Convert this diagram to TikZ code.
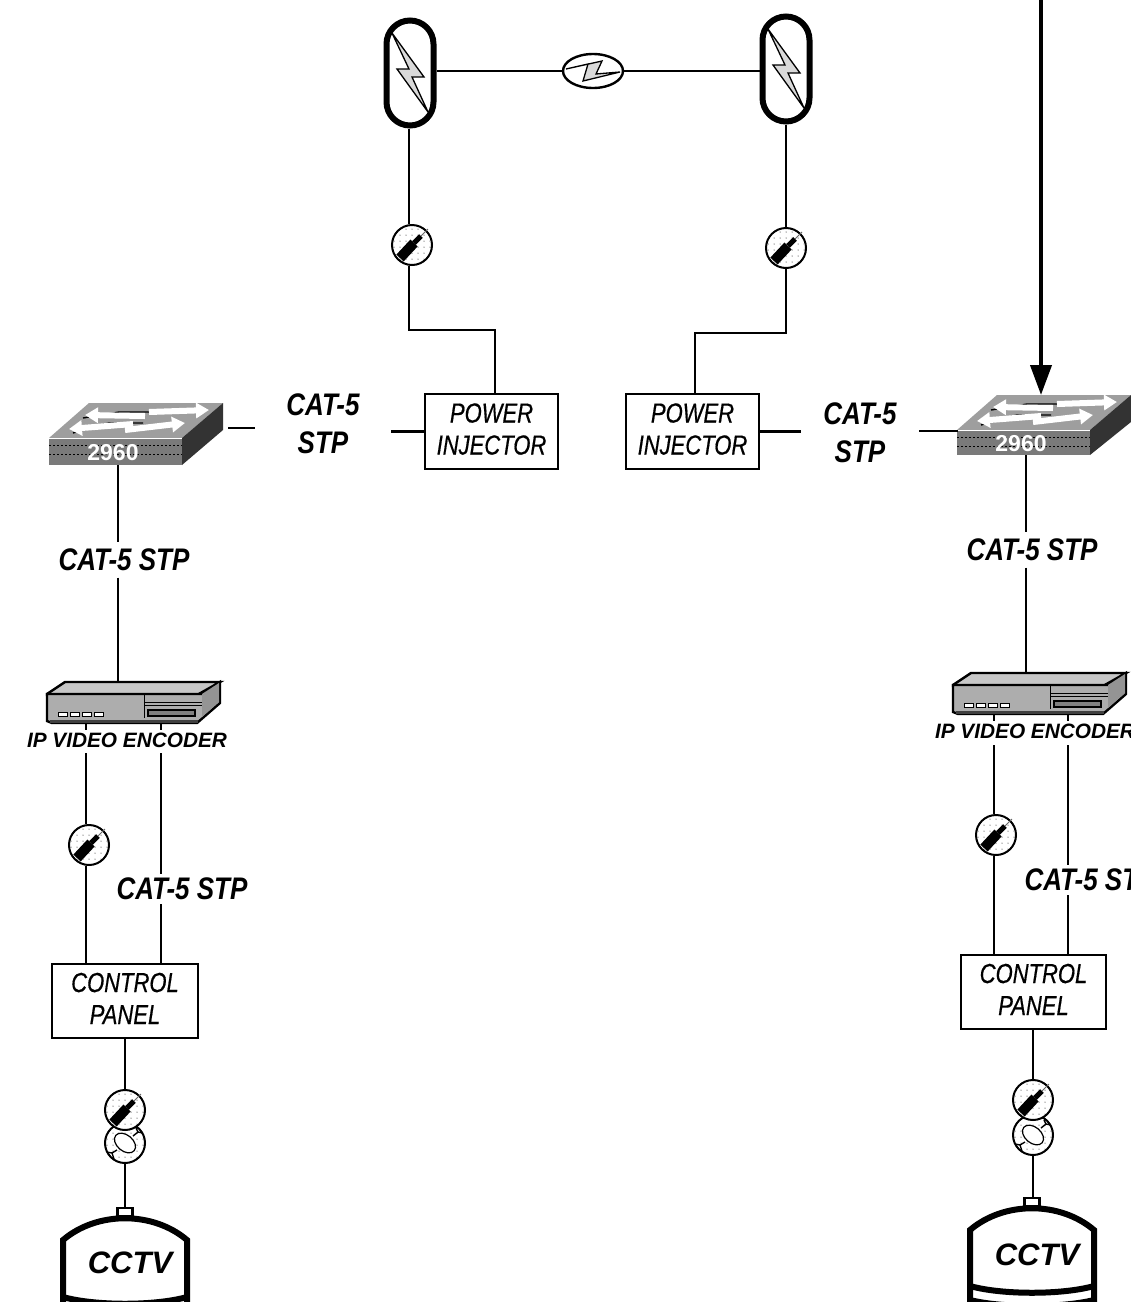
\documentclass[tikz,border=0pt]{standalone}
\usepackage{fontspec}
\usepackage{graphicx}
\setmainfont{Liberation Sans}
\newfontface\medit[FakeBold=0.6]{Liberation Sans Italic}
\usetikzlibrary{arrows.meta,calc,shapes.geometric}
\tikzset{
  wire/.style={line width=2.4pt,draw=black},
  boxnode/.style={draw=black,line width=2.8pt,fill=white,inner sep=0pt,align=center,font=\fontsize{22}{32}\selectfont\medit},
  catlabel/.style={inner sep=0pt,align=center,font=\fontsize{26}{38}\selectfont\bfseries\itshape},
  enclabel/.style={inner sep=0pt,minimum height=23pt,font=\fontsize{20.8}{24}\selectfont\bfseries\itshape},
  symcircle/.style={circle,draw=black,line width=2pt,fill=white,minimum size=40pt,inner sep=0pt},
  pill/.style={draw=black,line width=6pt,rounded corners=23.5pt,minimum width=47pt,minimum height=105pt,inner sep=0pt},
  boltfill/.style={draw=black,line width=1.3pt,line join=miter,fill=black!15},
  swarrow/.style={-{Triangle[length=13pt,width=15pt]},line width=6pt,draw=white},
  swshadow/.style={line width=1.4pt,draw=black},
}
\newcommand{\bxt}[1]{\raisebox{-2pt}[13pt][3pt]{\scalebox{1}[1.25]{#1}}}
% circle symbols
\newcommand{\symdots}{\begin{scope}
  \clip (0,0) circle (19pt);
  \foreach \px in {-18,-12,...,18}{\foreach \py in {-16,-10,...,20}{\fill[black] (\px,\py) circle (0.5pt);}}
  \end{scope}}
\newcommand{\cablesym}[3]{%
  \node[symcircle] (#1) at (#2,#3) {};
  \begin{scope}[shift={(#2,#3)}]
    \symdots
    \draw[line width=10pt] (-12,13)--(2,-2);
    \draw[line width=5pt] (2,-2)--(9,-9);
    \draw[line width=0.8pt,draw=black!60] (9,-9)--(16,-16);
  \end{scope}}
\newcommand{\fibersym}[3]{%
  \node[symcircle] (#1) at (#2,#3) {};
  \begin{scope}[shift={(#2,#3)}]
    \symdots
    \draw[line width=1.2pt,fill=white,rotate=-40] (0,0) ellipse (12pt and 8pt);
    \draw[line width=1.4pt] (8,-7)--(13,-11) (13,-11)--(11,-15) (13,-11)--(18,-10)
      (-8,7)--(-13,10) (-13,10)--(-18,9) (-13,10)--(-11,16);
  \end{scope}}
\newcommand{\antenna}[3]{%
  \node[pill] (#1) at (#2,#3) {};
  \begin{scope}[shift={(#2,#3)}]
    \draw[boltfill] (-18,-40)--(14,4)--(2,4)--(18,39)--(-13,-4)--(-1,-4)--cycle;
  \end{scope}}
\newcommand{\switchicon}[4]{% name, x, y, front height
  \begin{scope}[shift={(#2,#3)}]
    \fill[black!38] (0,0)--(40,-35)--(174,-35)--(133,0)--cycle;
    \fill[black!52] (0,0) rectangle (133,#4);
    \fill[black!80] (133,0)--(174,-35)--(174,-8)--(133,#4)--cycle;
    \draw[white,line width=1pt] (0,0)--(133,0);
    \draw[black,line width=0.8pt,dash pattern=on 2pt off 2pt] (0,7)--(133,7) (0,16)--(133,16);
    \draw[swshadow] (34,-20)--(70,-26)--(104,-26);
    \draw[swshadow] (24,-5)--(60,-15)--(94,-15);
    \draw[swarrow] (100,-26)--(160,-28);
    \draw[swarrow] (96,-22)--(36,-23);
    \draw[swarrow] (84,-14)--(20,-9);
    \draw[swarrow] (76,-8)--(136,-15);
    \node[inner sep=0pt,text=white,font=\fontsize{23}{24}\selectfont\bfseries] (#1txt) at (64,{#4/2+1}) {2960};
  \end{scope}}
\newcommand{\encoder}[3]{% name, x, y of front-left top corner
  \begin{scope}[shift={(#2,#3)}]
    \draw[line width=2.4pt,fill=black!22] (0,0)--(18,-12)--(173,-12)--(150,1)--(0,1)--cycle;
    \draw[line width=2.4pt,fill=black!32] (0,0)--(155,0)--(173,-12)--(173,9)--(150,29)--(5,29)--(0,27)--cycle;
    \fill[black!42] (155,0)--(172,-11)--(172,8)--(155,23)--cycle;
    \fill[black!75] (3,26) rectangle (151,29);
    \draw[line width=0.9pt] (97,1)--(97,24) (97,8)--(155,8) (97,11)--(155,11);
    \draw[line width=1.4pt,fill=black!50] (101,16) rectangle (148,22);
    \foreach \px in {11,23,35,47}{\draw[line width=1pt,fill=white] (\px,18) rectangle ++(9,4);}
  \end{scope}}
\newcommand{\cctv}[7]{% name, cx, shoulderY, controlY, nubBottomY, bottom-edgeY, bottom-ctrlY
  \path[draw=black,line width=6pt,line join=miter,fill=white]
    (#2-62,1312)--(#2-62,#3) .. controls (#2-28,#4) and (#2+28,#4) .. (#2+62,#3)--(#2+62,1312);
  \draw[line width=6pt] (#2-62,#6) .. controls (#2-30,#7) and (#2+30,#7) .. (#2+62,#6);
  \node[draw=black,line width=2.4pt,fill=white,minimum width=15pt,minimum height=8pt,inner sep=0pt,anchor=south] (#1) at (#2,#5) {};}
\begin{document}
\begin{tikzpicture}[x=1pt,y=-1pt]
\useasboundingbox (0,0) rectangle (1131,1302);
\clip (0,0) rectangle (1131,1302);
\fill[white] (0,0) rectangle (1131,1302);

% ---------- radio link
\antenna{ant1}{410}{73}
\antenna{ant2}{786}{69}
\node[draw=black,line width=2.4pt,fill=white,ellipse,minimum width=60pt,minimum height=34pt,inner sep=0pt] (link) at (593,71) {};
\begin{scope}[shift={(593,71)}]
  \draw[boltfill] (-27,-2)--(9,-10)--(3,3)--(27,1)--(-10,10)--(-5,-7)--cycle;
\end{scope}
\coordinate (linky) at (593,71);
\draw[wire] (ant1.east |- linky) -- (link.west);
\draw[wire] (link.east) -- (ant2.west |- linky);

\cablesym{cabA}{412}{245}
\cablesym{cabB}{786}{248}

% ---------- power injectors
\node[boxnode,minimum width=133pt,minimum height=75pt] (inj1) at (491.5,431.5) {\bxt{POWER}\\\bxt{INJECTOR}};
\node[boxnode,minimum width=133pt,minimum height=75pt] (inj2) at (692.5,431.5) {\bxt{POWER}\\\bxt{INJECTOR}};

\coordinate (a1x) at (409,128);
\coordinate (a2x) at (786,123);
\coordinate (b1) at (409,330);
\coordinate (b1b) at (495,330);
\coordinate (b2) at (786,333);
\coordinate (b2b) at (695,333);
\draw[wire] (ant1.south -| a1x) -- (cabA.north -| a1x);
\draw[wire] (cabA.south -| a1x) -- (b1) -- (b1b) -- (b1b |- inj1.north);
\draw[wire] (ant2.south -| a2x) -- (cabB.north);
\draw[wire] (cabB.south) -- (b2) -- (b2b) -- (b2b |- inj2.north);

% ---------- switches
\switchicon{sw1}{49}{438}{27}
\switchicon{sw2}{957}{430}{25}
\coordinate (sw1r) at (228,428);
\coordinate (sw1b) at (118,465);
\coordinate (sw2l) at (958,431);
\coordinate (sw2b) at (1026,455);
\coordinate (sw2t) at (1041,395);
\coordinate (topin) at (1041,-2);

\node[catlabel,minimum width=136pt] (cat1) at (323,424) {\scalebox{1}[1.2]{CAT-5}\\\scalebox{1}[1.2]{STP}};
\node[catlabel,minimum width=118pt] (cat2) at (860,433) {\scalebox{1}[1.2]{CAT-5}\\\scalebox{1}[1.2]{STP}};
\draw[wire] (sw1r) -- (cat1.west |- sw1r);
\draw[wire] (cat1.east |- inj1.west) -- (inj1.west);
\draw[wire] (inj2.east) -- (cat2.west |- inj2.east);
\draw[wire] (cat2.east |- sw2l) -- (sw2l);

% heavy uplink with arrowhead
\draw[line width=4pt,-{Triangle[length=30pt,width=21pt]}] (topin) -- (sw2t);

% ---------- left column
\node[catlabel,minimum height=35pt] (cat3) at (124,560) {\scalebox{1}[1.2]{CAT-5 STP}};
\encoder{enc1}{47}{694}
\coordinate (enc1t) at (118,682);
\coordinate (enc1a) at (86,723);
\coordinate (enc1b) at (161,723);
\coordinate (enc1a2) at (86,730);
\coordinate (enc1b2) at (161,730);
\coordinate (enc1a3) at (86,753);
\coordinate (enc1b3) at (161,753);
\node[enclabel] (lab1) at (127,740) {IP VIDEO ENCODER};
\cablesym{cabC}{89}{845}
\node[catlabel,minimum height=30pt] (cat4) at (182,889) {\scalebox{1}[1.2]{CAT-5 STP}};
\node[boxnode,minimum width=146pt,minimum height=74pt] (cp1) at (125,1001) {\bxt{CONTROL}\\\bxt{PANEL}};
\fibersym{fibD}{125}{1143}
\cablesym{cabD}{125}{1110}
\draw[wire] (sw1b) -- (cat3.north -| sw1b);
\draw[wire] (cat3.south -| sw1b) -- (enc1t);
\draw[wire] (enc1a) -- (enc1a2);
\draw[wire] (enc1b) -- (enc1b2);
\draw[wire] (enc1a3) -- (cabC.north -| enc1a);
\draw[wire] (cabC.south -| enc1a) -- (cp1.north -| enc1a);
\draw[wire] (enc1b3) -- (cat4.north -| enc1b);
\draw[wire] (cat4.south -| enc1b) -- (cp1.north -| enc1b);
\draw[wire] (cp1.south -| cabD.north) -- (cabD.north);
\cctv{cam1}{125}{1240}{1211}{1217}{1297}{1306}
\node[inner sep=0pt,font=\fontsize{31}{34}\selectfont\bfseries\itshape] (cam1t) at (130,1263) {CCTV};
\draw[wire] (fibD.south) -- (cam1.north);

% ---------- right column
\node[catlabel,minimum height=35pt] (cat5) at (1032,550) {\scalebox{1}[1.2]{CAT-5 STP}};
\encoder{enc2}{953}{685}
\coordinate (enc2t) at (1026,673);
\coordinate (enc2a) at (994,714);
\coordinate (enc2b) at (1068,714);
\coordinate (enc2a2) at (994,721);
\coordinate (enc2b2) at (1068,721);
\coordinate (enc2a3) at (994,745);
\coordinate (enc2b3) at (1068,745);
\node[enclabel] (lab2) at (1035,731) {IP VIDEO ENCODER};
\cablesym{cabE}{996}{835}
\node[catlabel,minimum height=30pt] (cat6) at (1090,880) {\scalebox{1}[1.2]{CAT-5 STP}};
\node[boxnode,minimum width=145pt,minimum height=74pt] (cp2) at (1033.5,992) {\bxt{CONTROL}\\\bxt{PANEL}};
\fibersym{fibF}{1033}{1135}
\cablesym{cabF}{1033}{1100}
\draw[wire] (sw2b) -- (cat5.north -| sw2b);
\draw[wire] (cat5.south -| sw2b) -- (enc2t);
\draw[wire] (enc2a) -- (enc2a2);
\draw[wire] (enc2b) -- (enc2b2);
\draw[wire] (enc2a3) -- (cabE.north -| enc2a);
\draw[wire] (cabE.south -| enc2a) -- (cp2.north -| enc2a);
\draw[wire] (enc2b3) -- (cat6.north -| enc2b);
\draw[wire] (cat6.south -| enc2b) -- (cp2.north -| enc2b);
\draw[wire] (cp2.south -| cabF.north) -- (cabF.north);
\cctv{cam2}{1032}{1230}{1201}{1207}{1286}{1295}
\draw[line width=6pt] (970,1300) .. controls (1002,1308) and (1062,1308) .. (1094,1300);
\node[inner sep=0pt,font=\fontsize{31}{34}\selectfont\bfseries\itshape] (cam2t) at (1037,1255) {CCTV};
\draw[wire] (fibF.south) -- (fibF.south |- cam2.north);
\end{tikzpicture}
\end{document}
